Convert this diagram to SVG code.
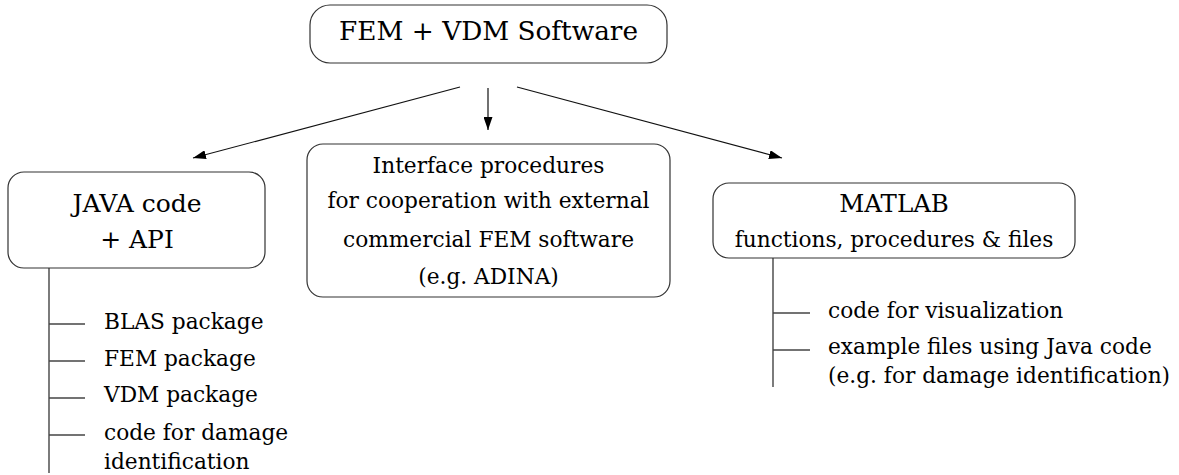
<svg xmlns="http://www.w3.org/2000/svg" width="1179" height="475" viewBox="0 0 1179 475">
  <defs>
    <marker id="arrow" viewBox="0 0 13 9" refX="13" refY="4.5" markerWidth="13" markerHeight="9" markerUnits="userSpaceOnUse" orient="auto">
      <path d="M0,0 L13,4.5 L0,9 Z" fill="#000"/>
    </marker>
    <style>
      .box { fill: #fff; stroke: #333; stroke-width: 1.2; }
      .t { font-family: "DejaVu Serif", "Liberation Serif", serif; fill: #000; }
      .c { text-anchor: middle; }
      .lg { font-size: 25px; }
      .md { font-size: 21.7px; }
      .conn { stroke: #111; stroke-width: 1.2; fill: none; }
      .tree { stroke: #444; stroke-width: 1.4; fill: none; }
    </style>
  </defs>

  <rect width="1179" height="475" fill="#fff"/>

  <!-- connectors -->
  <g id="connectors">
    <line class="conn" x1="460" y1="87" x2="193" y2="158" marker-end="url(#arrow)"/>
    <line class="conn" x1="488" y1="88" x2="488" y2="130" marker-end="url(#arrow)"/>
    <line class="conn" x1="517" y1="87" x2="782" y2="158" marker-end="url(#arrow)"/>

    <!-- JAVA sub-items -->
    <line class="tree" x1="49" y1="268" x2="49" y2="473"/>
    <line class="tree" x1="49" y1="324" x2="85" y2="324"/>
    <line class="tree" x1="49" y1="361" x2="85" y2="361"/>
    <line class="tree" x1="49" y1="398" x2="85" y2="398"/>
    <line class="tree" x1="49" y1="435" x2="85" y2="435"/>

    <!-- MATLAB sub-items -->
    <line class="tree" x1="773" y1="258" x2="773" y2="387"/>
    <line class="tree" x1="773" y1="313" x2="810" y2="313"/>
    <line class="tree" x1="773" y1="350" x2="810" y2="350"/>
  </g>

  <g id="root">
    <rect class="box" x="310" y="5" width="357" height="58" rx="20" ry="20"/>
    <text class="t c" x="488.5" y="40" font-size="26.3">FEM + VDM Software</text>
  </g>

  <g id="java">
    <rect class="box" x="8" y="172" width="257" height="96" rx="16" ry="16"/>
    <text class="t c lg" x="137" y="212">JAVA code</text>
    <text class="t c lg" x="137" y="248">+ API</text>
  </g>

  <g id="interface">
    <rect class="box" x="307" y="144" width="363" height="153" rx="16" ry="16"/>
    <text class="t c md" x="488.5" y="173">Interface procedures</text>
    <text class="t c md" x="488.5" y="208">for cooperation with external</text>
    <text class="t c md" x="488.5" y="246.5">commercial FEM software</text>
    <text class="t c md" x="488.5" y="283.5">(e.g. ADINA)</text>
  </g>

  <g id="matlab">
    <rect class="box" x="713" y="183" width="362" height="75" rx="16" ry="16"/>
    <text class="t c" x="894" y="212" font-size="24.5">MATLAB</text>
    <text class="t c md" x="894" y="246.5">functions, procedures &amp; files</text>
  </g>

  <g id="java-items">
    <text class="t md" x="104" y="329">BLAS package</text>
    <text class="t md" x="104" y="365.5">FEM package</text>
    <text class="t md" x="104" y="402">VDM package</text>
    <text class="t md" x="104" y="440">code for damage</text>
    <text class="t md" x="104" y="469">identification</text>
  </g>

  <g id="matlab-items">
    <text class="t md" x="828" y="317.5">code for visualization</text>
    <text class="t md" x="828" y="353.5">example files using Java code</text>
    <text class="t md" x="828" y="382.5">(e.g. for damage identification)</text>
  </g>
</svg>
